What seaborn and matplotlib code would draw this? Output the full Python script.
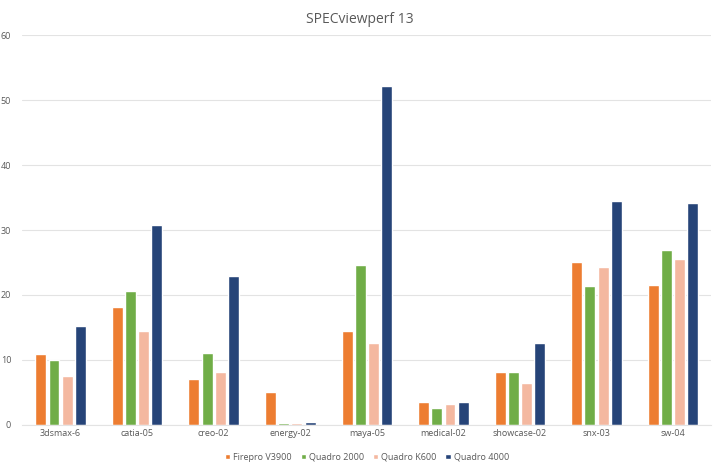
import pandas as pd
import matplotlib
matplotlib.use("Agg")
import matplotlib.pyplot as plt
import seaborn as sns

benchmarks = ["3dsmax-6", "catia-05", "creo-02", "energy-02", "maya-05",
              "medical-02", "showcase-02", "snx-03", "sw-04"]
firepro_v3900 = [10.9, 18.1, 7.0, 5.0, 14.5, 3.6, 8.1, 25.1, 21.5]
quadro_2000 = [10.0, 20.6, 11.1, 0.3, 24.6, 2.6, 8.1, 21.4, 27.0]
quadro_k600 = [7.6, 14.5, 8.1, 0.3, 12.6, 3.2, 6.5, 24.3, 25.5]
quadro_4000 = [15.3, 30.7, 23.0, 0.5, 52.1, 3.5, 12.6, 34.5, 34.1]
series_names = ["Firepro V3900", "Quadro 2000", "Quadro K600", "Quadro 4000"]

palette = ["#ED7D31", "#70AD47", "#F4B8A0", "#264478"]

rows = []
for name, vals in zip(series_names, [firepro_v3900, quadro_2000, quadro_k600, quadro_4000]):
    for b, v in zip(benchmarks, vals):
        rows.append({"benchmark": b, "card": name, "score": v})
df = pd.DataFrame(rows)

sns.set_style("white")
plt.rcParams['font.family'] = ['Open Sans', 'DejaVu Sans']

fig = plt.figure(figsize=(7.2, 4.68), dpi=100)
ax = fig.add_axes([0.031, 0.092, 0.957, 0.833])

sns.barplot(data=df, x="benchmark", y="score", hue="card", palette=palette,
            width=0.69, gap=0.17, ax=ax, saturation=1)

ax.set_ylim(0, 60)
ax.set_yticks(range(0, 61, 10))
ax.grid(axis="y", color="#e3e3e3", linewidth=0.8)
ax.set_axisbelow(True)
for s in ["top", "right", "left"]:
    ax.spines[s].set_visible(False)
ax.spines["bottom"].set_color("#e3e3e3")
ax.tick_params(axis="both", length=0, labelsize=6.5, colors="#595959", pad=3)
ax.tick_params(axis="y", pad=8)
ax.set_xlabel("")
ax.set_ylabel("")
ax.set_xlim(-0.5, 8.5)

fig.suptitle("SPECviewperf 13", y=0.975, fontsize=10, color="#595959")

ax.legend(loc="upper center", bbox_to_anchor=(0.5, -0.05), ncol=4, frameon=False,
          fontsize=6.5, handlelength=0.6, handleheight=0.6, handletextpad=0.3,
          columnspacing=1.0, labelcolor="#595959")

fig.savefig("out.png", dpi=100)
